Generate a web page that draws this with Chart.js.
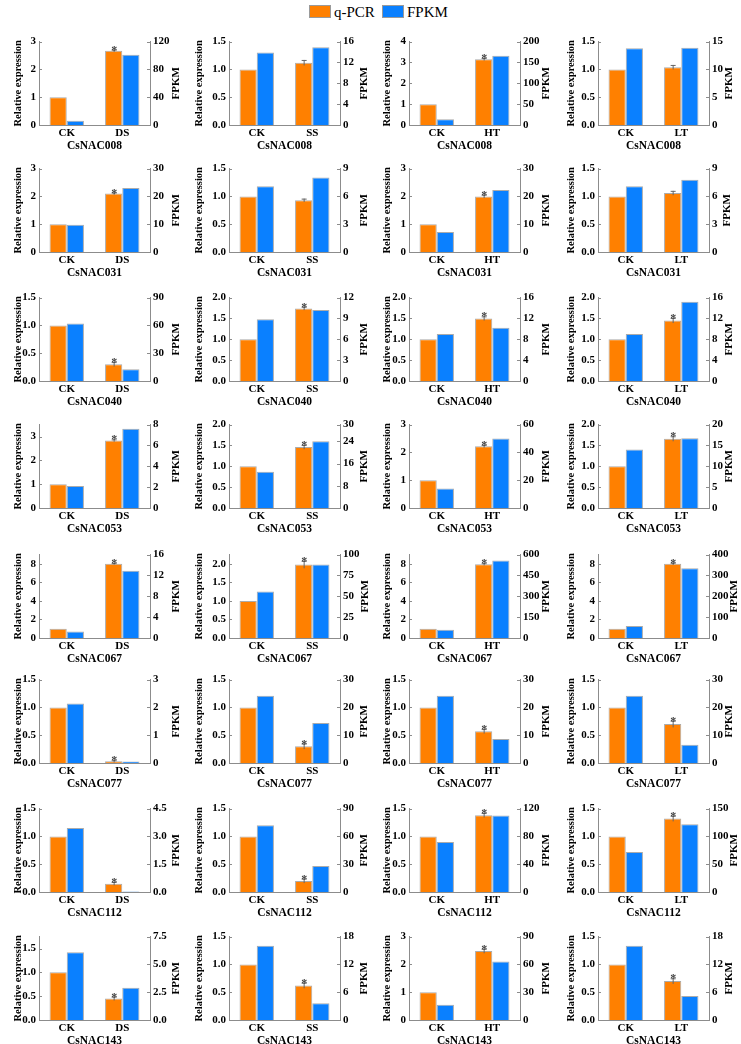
<!DOCTYPE html>
<html>
<head>
<meta charset="utf-8">
<script src="https://cdn.jsdelivr.net/npm/chart.js@4.4.0/dist/chart.umd.min.js"></script>
<style>
body { margin: 0; background: #fff; width: 741px; height: 1044px; position: relative; overflow: hidden; font-family: "Liberation Serif", serif; }
canvas.panel { position: absolute; }
.key { position: absolute; top: 2px; font-size: 15px; line-height: 20px; color: #000; }
.key span { display: inline-block; width: 20px; height: 11px; border: 1px solid #9a9a9a; vertical-align: -1px; margin-right: 3px; }
</style>
</head>
<body>
<div class="key" style="left:309px"><span style="background:#ff8000"></span>q-PCR</div>
<div class="key" style="left:382px"><span style="background:#0a80ff"></span>FPKM</div>
<script>
// genes (rows) and treatments (columns)
const genes = ['CsNAC008', 'CsNAC031', 'CsNAC040', 'CsNAC053', 'CsNAC067', 'CsNAC077', 'CsNAC112', 'CsNAC143'];
const treatments = ['DS', 'SS', 'HT', 'LT'];

// relative expression (q-PCR), [CK, treatment]
const qpcr = [
    [[1, 2.67], [1, 1.12], [1, 3.15], [1, 1.04]],
    [[1, 2.10], [1, 0.93], [1, 2.00], [1, 1.06]],
    [[1, 0.30], [1, 1.74], [1, 1.50], [1, 1.45]],
    [[1, 2.83], [1, 1.46], [1, 2.22], [1, 1.66]],
    [[1, 8.00], [1, 1.98], [1, 7.95], [1, 8.00]],
    [[1, 0.03], [1, 0.30], [1, 0.57], [1, 0.70]],
    [[1, 0.15], [1, 0.20], [1, 1.38], [1, 1.32]],
    [[1, 0.45], [1, 0.62], [1, 2.48], [1, 0.70]]
];
// error of the treated q-PCR bar
const qpcrErr = [
    [0.04, 0.05, 0.06, 0.04],
    [0.04, 0.03, 0.06, 0.04],
    [0.04, 0.04, 0.05, 0.06],
    [0.05, 0.05, 0.05, 0.06],
    [0.08, 0.10, 0.12, 0.12],
    [0.02, 0.05, 0.04, 0.06],
    [0.03, 0.04, 0.04, 0.05],
    [0.04, 0.05, 0.08, 0.05]
];
// significance mark on the treated bar
const stars = [
    [1, 0, 1, 0],
    [1, 0, 1, 0],
    [1, 1, 1, 1],
    [1, 1, 1, 1],
    [1, 1, 1, 1],
    [1, 1, 1, 1],
    [1, 1, 1, 1],
    [1, 1, 1, 1]
];
// FPKM, [CK, treatment]
const fpkm = [
    [[6, 101], [13.9, 14.9], [14, 166], [13.8, 13.9]],
    [[9.8, 23], [7.1, 8.05], [7.2, 22.3], [7.1, 7.8]],
    [[62, 12.6], [8.9, 10.2], [9.0, 10.2], [9.0, 15.2]],
    [[2.1, 7.6], [13, 24], [14, 50], [14, 16.7]],
    [[1.25, 12.9], [55.7, 88], [59, 558], [58, 334]],
    [[2.14, 0.05], [24.2, 14.4], [24.2, 8.6], [24.2, 6.6]],
    [[3.45, 0.03], [72, 28], [72, 110], [72, 122]],
    [[6.1, 2.9], [16, 3.6], [16.5, 63], [16, 5.2]]
];

// axis ranges and tick labels
const I3 = ['0', '1', '2', '3'];
const I4 = ['0', '1', '2', '3', '4'];
const H15 = ['0.0', '0.5', '1.0', '1.5'];
const H20 = ['0.0', '0.5', '1.0', '1.5', '2.0'];
const E8 = ['0', '2', '4', '6', '8'];
const leftMax = [
    [3, 1.5, 4, 1.5],
    [3, 1.5, 3, 1.5],
    [1.5, 2, 2, 2],
    [3.5, 2, 3, 2],
    [9, 2.25, 9, 9],
    [1.5, 1.5, 1.5, 1.5],
    [1.5, 1.5, 1.5, 1.5],
    [1.75, 1.5, 3, 1.5]
];
const leftTicks = [
    [I3, H15, I4, H15],
    [I3, H15, I3, H15],
    [H15, H20, H20, H20],
    [I3, H20, I3, H20],
    [E8, H20, E8, E8],
    [H15, H15, H15, H15],
    [H15, H15, H15, H15],
    [H15, H15, I3, H15]
];
const rightTicks = [
    [['0', '40', '80', '120'], ['0', '4', '8', '12', '16'], ['0', '50', '100', '150', '200'], ['0', '5', '10', '15']],
    [['0', '10', '20', '30'], ['0', '3', '6', '9'], ['0', '10', '20', '30'], ['0', '3', '6', '9']],
    [['0', '30', '60', '90'], ['0', '3', '6', '9', '12'], ['0', '4', '8', '12', '16'], ['0', '4', '8', '12', '16']],
    [['0', '2', '4', '6', '8'], ['0', '8', '16', '24', '30'], ['0', '20', '40', '60'], ['0', '5', '10', '15', '20']],
    [['0', '4', '8', '12', '16'], ['0', '25', '50', '75', '100'], ['0', '150', '300', '450', '600'], ['0', '100', '200', '300', '400']],
    [['0', '1', '2', '3'], ['0', '10', '20', '30'], ['0', '10', '20', '30'], ['0', '10', '20', '30']],
    [['0.0', '1.5', '3.0', '4.5'], ['0', '30', '60', '90'], ['0', '40', '80', '120'], ['0', '50', '100', '150']],
    [['0.0', '2.5', '5.0', '7.5'], ['0', '6', '12', '18'], ['0', '30', '60', '90'], ['0', '6', '12', '18']]
];

// layout
const colLeft = [0, 190, 370, 559];
const leftTitleX = [18, 9, 17, 12];
const rightTitleX = [176, 174, 176, 168];
const plotTop = [40, 167, 296, 423, 553, 678, 807, 935];
const PAD_TOP = 8, PLOT_H = 85, X_H = 33, CANVAS_W = 182, LEFT_W = 39, RIGHT_W = 32;
const AXIS = '#8c8c8c';
const tickFont = { family: 'Liberation Serif', size: 11, weight: 'bold' };

const decorations = {
    id: 'decorations',
    afterDatasetsDraw(chart, args, opts) {
        const ctx = chart.ctx;
        const ys = chart.scales.y;
        const bar = chart.getDatasetMeta(0).data[1];
        const v = chart.data.datasets[0].data[1];
        const top = ys.getPixelForValue(v + opts.err);
        const bot = ys.getPixelForValue(Math.max(0, v - opts.err));
        ctx.save();
        ctx.strokeStyle = '#666';
        ctx.lineWidth = 1;
        ctx.beginPath();
        ctx.moveTo(bar.x + 0.5, top); ctx.lineTo(bar.x + 0.5, bot);
        ctx.moveTo(bar.x - 2, top + 0.5); ctx.lineTo(bar.x + 3, top + 0.5);
        ctx.stroke();
        if (opts.star) {
            ctx.fillStyle = '#444';
            ctx.font = 'bold 12px "Liberation Serif"';
            ctx.textAlign = 'center';
            ctx.textBaseline = 'alphabetic';
            ctx.fillText('*', bar.x + 0.5, top + 4);
        }
        ctx.restore();
    },
    afterDraw(chart, args, opts) {
        const ctx = chart.ctx;
        const a = chart.chartArea;
        ctx.save();
        // inward tick marks
        ctx.strokeStyle = AXIS;
        ctx.lineWidth = 1;
        ctx.beginPath();
        chart.scales.y.ticks.forEach(t => {
            const p = Math.round(chart.scales.y.getPixelForValue(t.value)) + 0.5;
            ctx.moveTo(a.left, p); ctx.lineTo(a.left + 3, p);
        });
        chart.scales.y1.ticks.forEach(t => {
            const p = Math.round(chart.scales.y1.getPixelForValue(t.value)) + 0.5;
            ctx.moveTo(a.right, p); ctx.lineTo(a.right - 3, p);
        });
        ctx.stroke();
        // right title sits just past the widest tick label
        ctx.font = 'bold 11px "Liberation Serif"';
        const widest = Math.max(...chart.scales.y1.ticks.map(t => ctx.measureText(t.label).width));
        const rx = Math.max(opts.rightX, a.right + 3 + widest + 6);
        // titles
        ctx.fillStyle = '#000';
        ctx.textAlign = 'center';
        ctx.textBaseline = 'middle';
        const mid = (a.top + a.bottom) / 2;
        ctx.font = 'bold 10.5px "Liberation Serif"';
        ctx.save();
        ctx.translate(opts.leftX, mid);
        ctx.rotate(-Math.PI / 2);
        ctx.fillText('Relative expression', 0, 0);
        ctx.restore();
        ctx.font = 'bold 11px "Liberation Serif"';
        ctx.save();
        ctx.translate(rx, mid);
        ctx.rotate(-Math.PI / 2);
        ctx.fillText('FPKM', 0, 0);
        ctx.restore();
        ctx.font = 'bold 11.5px "Liberation Serif"';
        ctx.fillText(opts.gene, (a.left + a.right) / 2, a.bottom + 21);
        ctx.restore();
    }
};

function yScale(position, max, labels, width) {
    return {
        position: position,
        min: 0,
        max: max,
        grid: { display: false, drawTicks: false },
        border: { display: true, color: AXIS, width: 1 },
        ticks: {
            font: tickFont,
            color: '#000',
            padding: 3,
            callback: (value, i) => labels[i]
        },
        afterBuildTicks(s) { s.ticks = labels.map(l => ({ value: parseFloat(l) })); },
        afterFit(s) { s.width = width; }
    };
}

function makePanel(r, c) {
    const canvas = document.createElement('canvas');
    canvas.className = 'panel';
    canvas.width = CANVAS_W;
    canvas.height = PAD_TOP + PLOT_H + X_H;
    canvas.style.left = colLeft[c] + 'px';
    canvas.style.top = (plotTop[r] - PAD_TOP) + 'px';
    document.body.appendChild(canvas);

    const rLabels = rightTicks[r][c];
    const rMax = parseFloat(rLabels[rLabels.length - 1]);
    new Chart(canvas.getContext('2d'), {
        type: 'bar',
        data: {
            labels: ['CK', treatments[c]],
            datasets: [{
                label: 'q-PCR',
                data: qpcr[r][c],
                yAxisID: 'y',
                backgroundColor: '#ff8000',
                borderColor: 'rgba(150,150,150,0.8)',
                borderWidth: 1,
                categoryPercentage: 0.62,
                barPercentage: 1
            }, {
                label: 'FPKM',
                data: fpkm[r][c],
                yAxisID: 'y1',
                backgroundColor: '#0a80ff',
                borderColor: 'rgba(150,150,150,0.8)',
                borderWidth: 1,
                categoryPercentage: 0.62,
                barPercentage: 1
            }]
        },
        options: {
            responsive: false,
            animation: false,
            devicePixelRatio: 1,
            layout: { padding: { top: PAD_TOP, left: 0, right: 0, bottom: 0 } },
            plugins: {
                legend: { display: false },
                tooltip: { enabled: false },
                decorations: {
                    err: qpcrErr[r][c], star: stars[r][c], gene: genes[r],
                    leftX: leftTitleX[c], rightX: rightTitleX[c]
                }
            },
            scales: {
                x: {
                    grid: { display: false, drawTicks: false },
                    border: { display: true, color: AXIS, width: 1 },
                    ticks: { font: tickFont, color: '#000', padding: 2 },
                    afterFit(s) { s.height = X_H; }
                },
                y: yScale('left', leftMax[r][c], leftTicks[r][c], LEFT_W),
                y1: yScale('right', rMax, rLabels, RIGHT_W)
            }
        },
        plugins: [decorations]
    });
}

genes.forEach((g, r) => treatments.forEach((t, c) => makePanel(r, c)));
</script>
</body>
</html>
